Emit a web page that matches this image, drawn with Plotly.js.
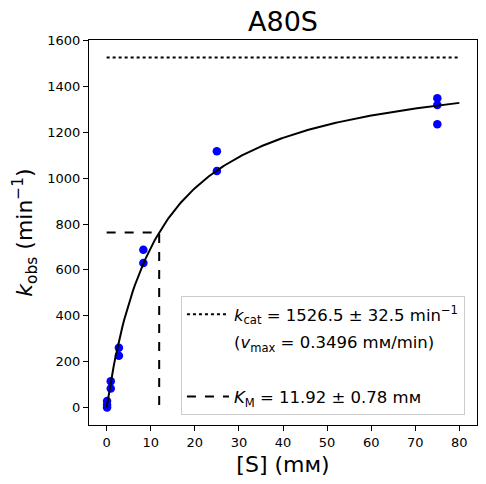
<!DOCTYPE html>
<html>
<head>
<meta charset="utf-8">
<script src="https://cdn.plot.ly/plotly-3.0.1.min.js"></script>
<style>html,body{margin:0;padding:0;background:#fff;}#chart{width:486px;height:484px;}</style>
</head>
<body>
<div id="chart"></div>
<script>
// Measured data
const substrateConc = [0.1, 0.1, 0.1, 0.93, 0.93, 2.78, 2.78, 8.33, 8.33, 25, 25, 75, 75, 75];
const kObs = [0, 12, 28, 83, 115, 226, 261, 630, 688, 1031, 1118, 1235, 1319, 1349];

// Fit parameters (from the legend)
const kcat = 1526.5;
const kcatErr = 32.5;
const vmax = 0.3496;
const KM = 11.92;
const KMErr = 0.78;
const sMax = 80;

// Tick labels
const xTicks = [0, 10, 20, 30, 40, 50, 60, 70, 80];
const yTicks = [0, 200, 400, 600, 800, 1000, 1200, 1400, 1600];

// Fit curve sampled from the Michaelis-Menten model with the fitted parameters
const fitS = [];
const fitK = [];
for (let i = 0; i <= 200; i++) {
  const s = sMax * i / 200;
  fitS.push(s);
  fitK.push(kcat * s / (KM + s));
}

const font = "DejaVu Sans, sans-serif";

const traces = [
  {x: substrateConc, y: kObs, mode: 'markers', type: 'scatter', showlegend: false,
   marker: {color: '#0000ff', size: 8.5}},
  {x: fitS, y: fitK, mode: 'lines', type: 'scatter', showlegend: false,
   line: {color: '#000000', width: 2}},
  {x: [0, sMax], y: [kcat, kcat], mode: 'lines', type: 'scatter', legendgroup: 'g1',
   name: '<i>k</i><sub>cat</sub> = ' + kcat.toFixed(1) + ' ± ' + kcatErr.toFixed(1) + ' min<sup>−1</sup>',
   line: {color: '#000000', width: 2, dash: 'dot'}},
  {x: [null], y: [null], mode: 'lines', type: 'scatter', legendgroup: 'g2',
   name: '(<i>v</i><sub>max</sub> = ' + vmax.toFixed(4) + ' mᴍ/min)',
   line: {color: 'rgba(0,0,0,0)', width: 0}},
  {x: [null], y: [null], mode: 'lines', type: 'scatter', legendgroup: 'g3',
   name: ' ',
   line: {color: 'rgba(0,0,0,0)', width: 0}},
  {x: [0, KM, KM], y: [kcat / 2, kcat / 2, 0], mode: 'lines', type: 'scatter', legendgroup: 'g4',
   name: '<i>K</i><sub>M</sub> = ' + KM.toFixed(2) + ' ± ' + KMErr.toFixed(2) + ' mᴍ',
   line: {color: '#000000', width: 2, dash: 'dash'}}
];

const axisCommon = {
  showline: true, mirror: true, linecolor: '#000', linewidth: 1,
  ticks: 'outside', ticklen: 5, tickcolor: '#000', tickwidth: 1,
  showgrid: false, zeroline: false,
  tickfont: {family: font, size: 13, color: '#000'}
};

const layout = {
  width: 486, height: 484,
  margin: {l: 89, r: 9, t: 40, b: 59},
  paper_bgcolor: '#fff', plot_bgcolor: '#fff',
  font: {family: font, color: '#000'},
  title: {text: 'A80S', font: {family: font, size: 27, color: '#000'},
          xref: 'paper', x: 0.5, xanchor: 'center', yref: 'container', y: 0.955, yanchor: 'middle'},
  xaxis: Object.assign({}, axisCommon, {
    range: [-4, 84], tickvals: xTicks,
    title: {text: '[S] (mᴍ)', font: {family: font, size: 22, color: '#000'}, standoff: 8}
  }),
  yaxis: Object.assign({}, axisCommon, {
    range: [-76.3, 1602.8], tickvals: yTicks,
    title: {text: '<i>k</i><sub>obs</sub> (min<sup>−1</sup>)', font: {family: font, size: 22, color: '#000'}, standoff: 8}
  }),
  legend: {
    x: 0.237, y: 0.335, xanchor: 'left', yanchor: 'top',
    bgcolor: 'rgba(255,255,255,0.8)', bordercolor: '#cccccc', borderwidth: 1,
    font: {family: font, size: 16.5, color: '#000'},
    traceorder: 'grouped', tracegroupgap: 3, itemwidth: 42
  }
};

Plotly.newPlot('chart', traces, layout, {displayModeBar: false, staticPlot: true});
</script>
</body>
</html>
